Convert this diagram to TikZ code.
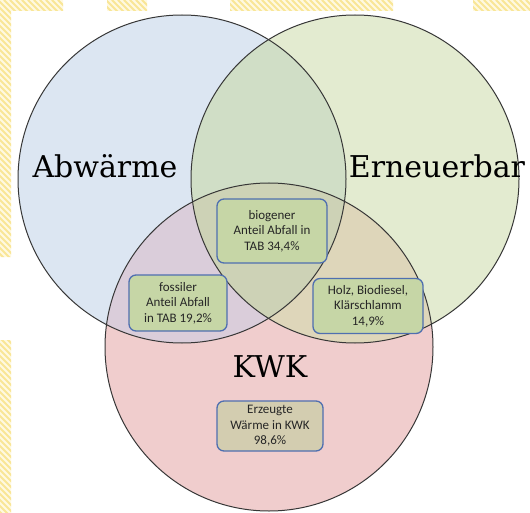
\documentclass[tikz,border=0pt]{standalone}
\usepackage{fontspec}
\newfontfamily\boxfont{Carlito}
\newfontfamily\bigfont{DejaVu Serif}

\definecolor{abwblue}{RGB}{220,230,242}
\definecolor{erngreen}{RGB}{227,235,208}
\definecolor{kwkred}{RGB}{240,205,205}
\definecolor{abwern}{RGB}{208,222,198}
\definecolor{abwkwk}{RGB}{218,205,218}
\definecolor{ernkwk}{RGB}{222,214,186}
\definecolor{allthree}{RGB}{205,210,182}
\definecolor{boxgreen}{RGB}{198,214,166}
\definecolor{boxtan}{RGB}{211,205,176}
\definecolor{boxblue}{RGB}{79,111,176}
\definecolor{ringgray}{RGB}{55,55,55}
\definecolor{stripebg}{RGB}{255,249,225}
\definecolor{stripeyellow}{RGB}{249,230,150}

\tikzset{
  ring/.style={draw=ringgray, line width=1pt},
  bigtext/.style={font=\bigfont\fontsize{30}{36}\selectfont, anchor=base, inner sep=0pt},
  infobox/.style={draw=boxblue, line width=1.3pt, rounded corners=7pt, align=center,
    inner sep=0pt, text=black!85, font=\boxfont\fontsize{13}{15.5}\selectfont},
  stripe/.style={draw=stripeyellow, line width=2pt}
}

\begin{document}
\begin{tikzpicture}[x=1pt, y=-1pt, line cap=round]
  \useasboundingbox (0,0) rectangle (530,513);

  % yellow stripes at the border
  \begin{scope}
    \clip (0,0) rectangle (63,11) (107,0) rectangle (147,11) (230,0) rectangle (393,11)
      (473,0) rectangle (530,11) (0,11) rectangle (11,257) (0,340) rectangle (11,513);
    \fill[stripebg] (0,0) rectangle (530,513);
    \foreach \s in {-530,-524,...,530}
      \draw[stripe] (\s,0) -- ++(540,540);
  \end{scope}

  \coordinate (cabw) at (182,179);
  \coordinate (cern) at (355,179);
  \coordinate (ckwk) at (269,347);
  \def\rad{164}

  % circles and overlaps
  \fill[abwblue] (cabw) circle (\rad);
  \fill[erngreen] (cern) circle (\rad);
  \fill[kwkred] (ckwk) circle (\rad);
  \begin{scope}
    \clip (cabw) circle (\rad);
    \fill[abwern] (cern) circle (\rad);
    \fill[abwkwk] (ckwk) circle (\rad);
  \end{scope}
  \begin{scope}
    \clip (cern) circle (\rad);
    \fill[ernkwk] (ckwk) circle (\rad);
  \end{scope}
  \begin{scope}
    \clip (cabw) circle (\rad);
    \clip (cern) circle (\rad);
    \fill[allthree] (ckwk) circle (\rad);
  \end{scope}

  \draw[ring] (cabw) circle (\rad);
  \draw[ring] (cern) circle (\rad);
  \draw[ring] (ckwk) circle (\rad);

  \node[bigtext] (abw) at (105,178) {Abwärme};
  \node[bigtext] (ern) at (437,178) {Erneuerbar};
  \node[bigtext] (kwk) at (270,377) {KWK};

  \node[infobox, fill=boxgreen, minimum width=110pt, minimum height=64pt] (bio) at (272,231)
    {biogener\\Anteil Abfall in\\TAB 34,4\%};
  \node[infobox, fill=boxgreen, minimum width=98pt, minimum height=56pt] (fos) at (178,303)
    {fossiler\\Anteil Abfall\\in TAB 19,2\%};
  \node[infobox, fill=boxgreen, minimum width=110pt, minimum height=55pt] (holz) at (368,306)
    {Holz, Biodiesel,\\Klärschlamm\\14,9\%};
  \node[infobox, fill=boxtan, minimum width=106pt, minimum height=50pt] (erz) at (270,426)
    {Erzeugte\\Wärme in KWK\\98,6\%};
\end{tikzpicture}
\end{document}
